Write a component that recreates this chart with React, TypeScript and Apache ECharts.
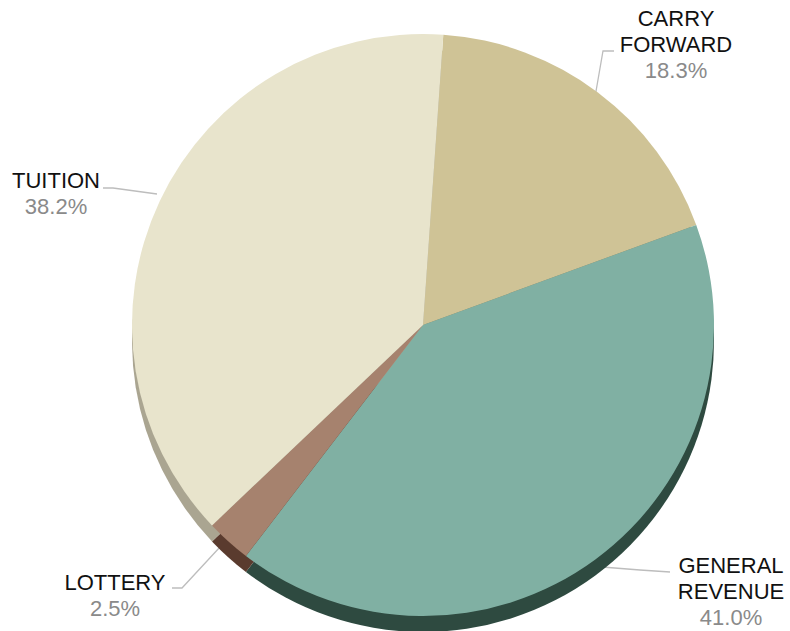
import React, { useEffect, useRef } from "react";
import * as echarts from "echarts";

const categories = ["CARRY\nFORWARD", "GENERAL\nREVENUE", "LOTTERY", "TUITION"];
const values = [18.3, 41.0, 2.5, 38.2];
const faceColors = ["#cfc396", "#80b0a3", "#a6826e", "#e8e4cc"];
const edgeColors = ["#8f865f", "#2e4a40", "#5a3b2e", "#aaa591"];

// label placement (center x, top y) and leader lines
const labelPos = [
  { x: 676, y: 5, line: [[595, 97], [603, 51], [614, 51]] },
  { x: 731, y: 552, line: [[602, 567], [640, 570], [670, 572]] },
  { x: 115, y: 569, line: [[220, 547], [182, 588], [172, 588]] },
  { x: 56, y: 167, line: [[157, 194], [113, 188], [103, 188]] },
];

export default function App() {
  const ref = useRef<HTMLDivElement>(null);
  useEffect(() => {
    if (!ref.current) return;
    const chart = echarts.init(ref.current, null, { renderer: "svg" });
    const data = categories.map((c, i) => ({ name: c, value: values[i] }));
    chart.setOption({
      animation: false,
      backgroundColor: "#ffffff",
      series: [
        {
          type: "pie",
          silent: true,
          center: [423, 341],
          radius: 291,
          startAngle: 86,
          clockwise: true,
          label: { show: false },
          labelLine: { show: false },
          data: data.map((d, i) => ({ ...d, itemStyle: { color: edgeColors[i] } })),
        },
        {
          type: "pie",
          center: [423, 325],
          radius: 291,
          startAngle: 86,
          clockwise: true,
          itemStyle: { borderWidth: 0 },
          data: data.map((d, i) => ({ ...d, itemStyle: { color: faceColors[i] } })),
          label: {
            show: true,
            fontFamily: "Liberation Sans, Arial, sans-serif",
            formatter: (p: any) => {
              const lines = String(p.name).split("\n").map((l: string) => `{n|${l}}`);
              return lines.join("\n") + `\n{p|${Number(p.value).toFixed(1)}%}`;
            },
            rich: {
              n: { fontSize: 22, color: "#111111", lineHeight: 26, fontFamily: "Liberation Sans, Arial, sans-serif" },
              p: { fontSize: 22, color: "#8a8a8a", lineHeight: 26, fontFamily: "Liberation Sans, Arial, sans-serif" },
            },
          },
          labelLine: { show: true, lineStyle: { color: "#bdbdbd", width: 1.3 } },
          labelLayout: (params: any) => {
            const lp = labelPos[params.dataIndex];
            return {
              x: lp.x,
              y: lp.y,
              align: "center",
              verticalAlign: "top",
              labelLinePoints: lp.line,
            };
          },
        },
      ],
    });
    return () => chart.dispose();
  }, []);
  return (
    <div
      ref={ref}
      style={{ position: "absolute", left: 0, top: 0, width: 790, height: 631 }}
    />
  );
}
